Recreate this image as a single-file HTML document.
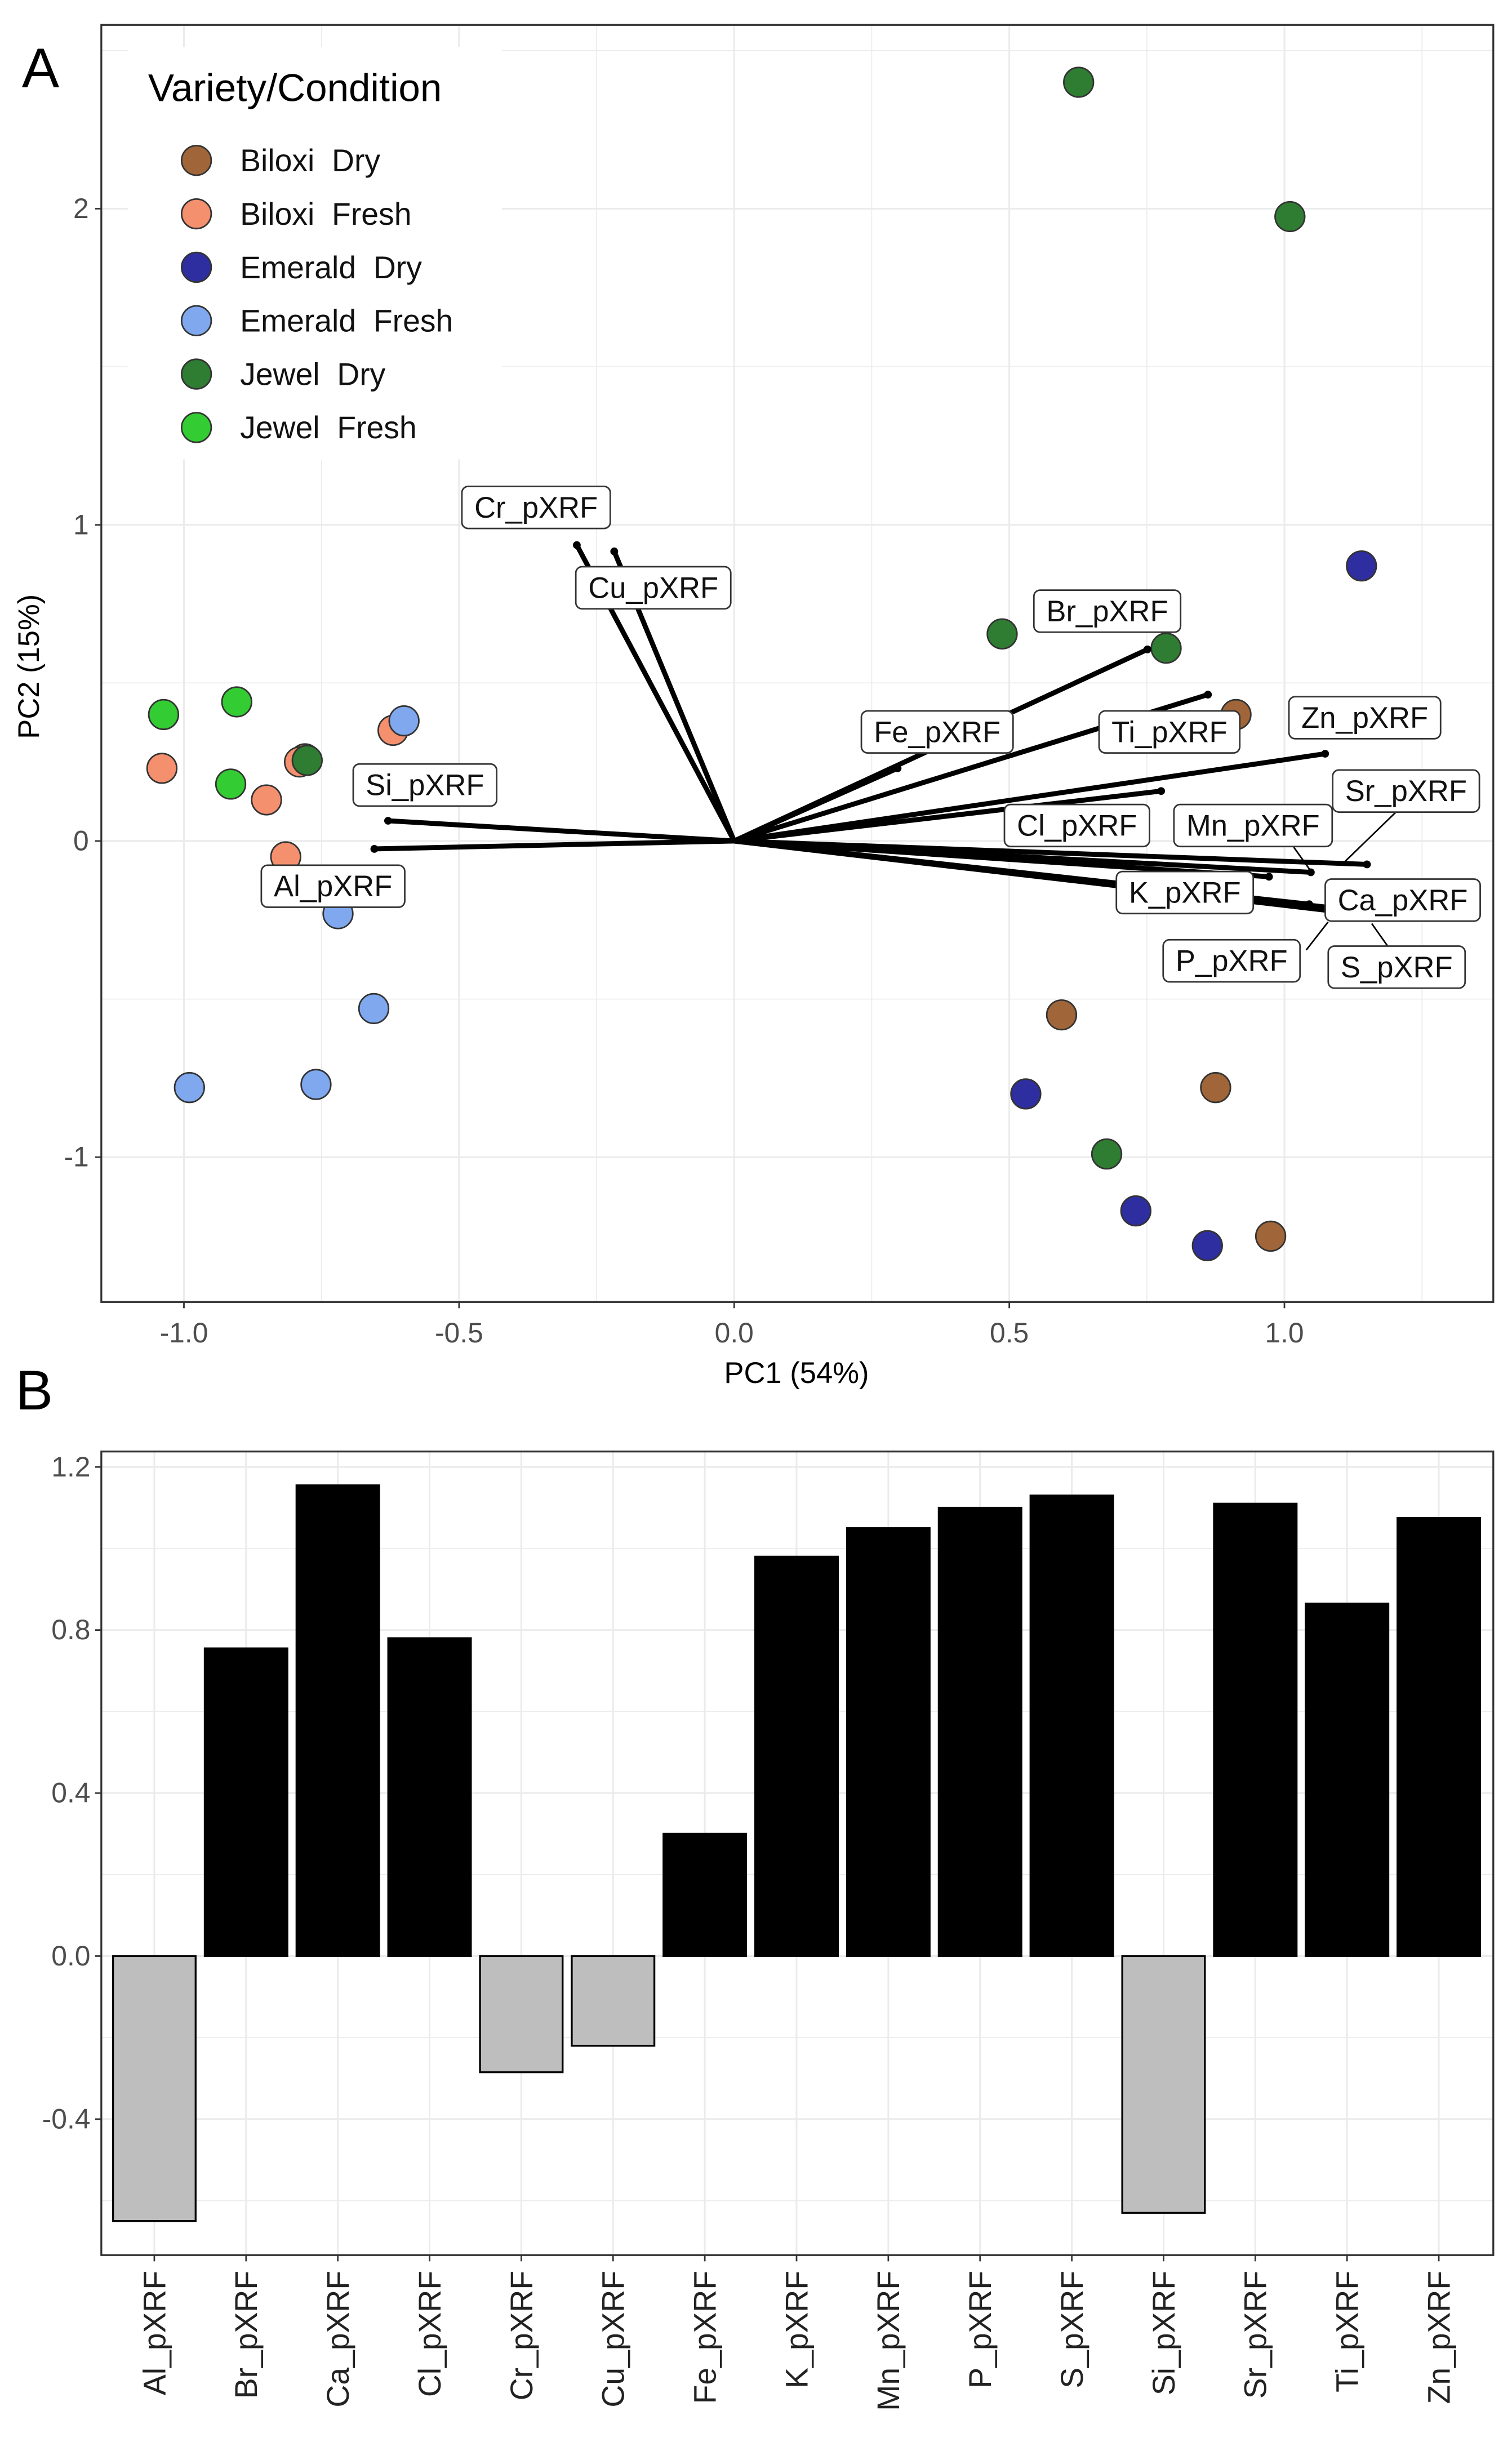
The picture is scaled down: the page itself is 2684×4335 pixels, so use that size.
<!DOCTYPE html>
<html><head><meta charset="utf-8"><style>
html,body{margin:0;padding:0;background:#fff}
svg{display:block}
text{font-family:"Liberation Sans",Arial,sans-serif;white-space:pre}
</style></head><body>
<svg id="fig" width="2684" height="4335" viewBox="0 0 970 1568" preserveAspectRatio="none" xmlns="http://www.w3.org/2000/svg">
<rect width="970" height="1568" fill="#fff"/>
<g id="pa"></g>
<g id="pb"></g>
</svg>
<script>
// ---- Panel A data ----
const groups = ["Biloxi  Dry","Biloxi  Fresh","Emerald  Dry","Emerald  Fresh","Jewel  Dry","Jewel  Fresh"];
const groupColors = ["#A0663A","#F4906E","#2E2EA0","#7FA8EE","#2E7D32","#33CC33"];
const biloxiDry = [[0.912,0.40],[0.595,-0.55],[0.875,-0.78],[0.975,-1.25],[-0.78,0.26]];
const biloxiFresh = [[-1.04,0.23],[-0.85,0.13],[-0.815,-0.05],[-0.62,0.35],[-0.79,0.25]];
const emeraldDry = [[1.14,0.87],[0.53,-0.80],[0.73,-1.17],[0.86,-1.28],[0.70,0.05]];
const emeraldFresh = [[-0.99,-0.78],[-0.76,-0.77],[-0.655,-0.53],[-0.72,-0.23],[-0.60,0.38]];
const jewelDry = [[0.626,2.40],[1.01,1.975],[0.487,0.655],[0.785,0.61],[0.677,-0.99],[-0.776,0.255]];
const jewelFresh = [[-1.037,0.40],[-0.904,0.44],[-0.915,0.18]];
const loadNames = ["Cr_pXRF","Cu_pXRF","Si_pXRF","Al_pXRF","Br_pXRF","Fe_pXRF","Ti_pXRF","Zn_pXRF","Cl_pXRF","Mn_pXRF","K_pXRF","Sr_pXRF","Ca_pXRF","S_pXRF","P_pXRF"];
const loadX = [-0.286,-0.218,-0.629,-0.654,0.751,0.297,0.861,1.074,0.776,1.048,0.972,1.15,1.08,1.08,1.045];
const loadY = [0.936,0.916,0.064,-0.025,0.606,0.23,0.463,0.276,0.158,-0.099,-0.113,-0.074,-0.21,-0.22,-0.20];
const labelX = [-0.36,-0.147,-0.562,-0.729,0.678,0.369,0.791,1.146,0.623,0.943,0.819,1.221,1.215,1.204,0.904];
const labelY = [1.055,0.801,0.177,-0.143,0.727,0.345,0.345,0.39,0.049,0.049,-0.163,0.158,-0.187,-0.399,-0.379];
const xTicksA = [-1.0,-0.5,0.0,0.5,1.0];
const xTickLabA = ["-1.0","-0.5","0.0","0.5","1.0"];
const yTicksA = [-1,0,1,2];
const yTickLabA = ["-1","0","1","2"];
// ---- Panel B data ----
const barCats = ["Al_pXRF","Br_pXRF","Ca_pXRF","Cl_pXRF","Cr_pXRF","Cu_pXRF","Fe_pXRF","K_pXRF","Mn_pXRF","P_pXRF","S_pXRF","Si_pXRF","Sr_pXRF","Ti_pXRF","Zn_pXRF"];
const barVals = [-0.65,0.755,1.155,0.78,-0.285,-0.22,0.30,0.98,1.05,1.10,1.13,-0.63,1.11,0.865,1.075];
const yTicksB = [-0.4,0.0,0.4,0.8,1.2];
const yTickLabB = ["-0.4","0.0","0.4","0.8","1.2"];

const NS="http://www.w3.org/2000/svg";
function mk(parent,tag,attrs,txt){const e=document.createElementNS(NS,tag);for(const k in attrs)e.setAttribute(k,attrs[k]);if(txt!==undefined)e.textContent=txt;parent.appendChild(e);return e;}

const AL=65,AR=958,AT=16,AB=836;
const sx=v=>471+353*v, sy=v=>540-203*v;
const pa=document.getElementById('pa');
let t;
t=mk(pa,'text',{x:14,y:56,'font-size':36,fill:'#000'},'A');


const ga=mk(pa,'g',{});


for(let v=-1.25;v<=1.3;v+=0.25){const x=sx(v);if(x<AL||x>AR)continue;const major=Math.abs(v*2-Math.round(v*2))<1e-6;mk(ga,'line',{x1:x,x2:x,y1:AT,y2:AB,stroke:'#ebebeb','stroke-width':major?1.1:0.6});}
for(let v=-1.5;v<=2.5;v+=0.5){const y=sy(v);if(y<AT||y>AB)continue;const major=Math.abs(v-Math.round(v))<1e-6;mk(ga,'line',{x1:AL,x2:AR,y1:y,y2:y,stroke:'#ebebeb','stroke-width':major?1.1:0.6});}
const allPts=[biloxiDry,biloxiFresh,emeraldDry,emeraldFresh,jewelDry,jewelFresh];
allPts.forEach((arr,gi)=>{arr.forEach((p,i)=>{const c=mk(pa,'circle',{cx:sx(p[0]),cy:sy(p[1]),r:9.5,fill:groupColors[gi],stroke:'#333','stroke-width':1});

});});
loadNames.forEach((n,i)=>{const l=mk(pa,'line',{x1:sx(0),y1:sy(0),x2:sx(loadX[i]),y2:sy(loadY[i]),stroke:'#000','stroke-width':3.2});


mk(pa,'circle',{cx:sx(loadX[i]),cy:sy(loadY[i]),r:2.5,fill:'#000'});});
[[11,[896,521],[862,554]],[12,[852,592],[838,610]],[13,[880,593],[892,610]],[9,[830,544],[840,558]]].forEach(d=>{mk(pa,'line',{x1:d[1][0],y1:d[1][1],x2:d[2][0],y2:d[2][1],stroke:'#000','stroke-width':1});});
loadNames.forEach((n,i)=>{const cx=sx(labelX[i]),cy=sy(labelY[i]);
const g=mk(pa,'g',{});


const r=mk(g,'rect',{x:cx-45,y:cy-13.5,width:90,height:27,rx:4,fill:'#fff',stroke:'#333','stroke-width':1});
const tx=mk(g,'text',{x:cx,y:cy+6.5,'font-size':19,'text-anchor':'middle',fill:'#111'},n);
const w=tx.getComputedTextLength()+16;r.setAttribute('x',cx-w/2);r.setAttribute('width',w);});
mk(pa,'rect',{x:AL,y:AT,width:AR-AL,height:AB-AT,fill:'none',stroke:'#333','stroke-width':1.2});
xTicksA.forEach((v,i)=>{mk(pa,'line',{x1:sx(v),x2:sx(v),y1:AB,y2:AB+4,stroke:'#333'});
t=mk(pa,'text',{x:sx(v),y:AB+26,'font-size':18,'text-anchor':'middle',fill:'#4d4d4d'},xTickLabA[i]);

});
yTicksA.forEach((v,i)=>{mk(pa,'line',{x1:AL-4,x2:AL,y1:sy(v),y2:sy(v),stroke:'#333'});
t=mk(pa,'text',{x:AL-8,y:sy(v)+6,'font-size':18,'text-anchor':'end',fill:'#4d4d4d'},yTickLabA[i]);

});
t=mk(pa,'text',{x:511,y:888,'font-size':19,'text-anchor':'middle',fill:'#000'},'PC1 (54%)');


t=mk(pa,'text',{x:25,y:428,'font-size':19,'text-anchor':'middle',fill:'#000',transform:'rotate(-90 25 428)'},'PC2 (15%)');


const lg=mk(pa,'g',{});


mk(lg,'rect',{x:82,y:30,width:240,height:265,fill:'#fff'});
mk(lg,'text',{x:95,y:65,'font-size':25,fill:'#000'},'Variety/Condition');
groups.forEach((g,i)=>{const y=103+34.3*i;const e=mk(lg,'g',{});


mk(e,'circle',{cx:126,cy:y,r:9.5,fill:groupColors[i],stroke:'#333','stroke-width':1});
mk(e,'text',{x:154,y:y+7,'font-size':20,fill:'#111'},g);});

const BL=65,BR=958,BT=932,BB=1448;
const by=v=>1256-261.7*v, bx=i=>99+58.86*i;
const pb=document.getElementById('pb');
t=mk(pb,'text',{x:10,y:905,'font-size':36,fill:'#000'},'B');


const gb=mk(pb,'g',{});


for(let v=-0.6;v<=1.21;v+=0.2){const major=Math.abs(v/0.4-Math.round(v/0.4))<1e-6;mk(gb,'line',{x1:BL,x2:BR,y1:by(v),y2:by(v),stroke:'#ebebeb','stroke-width':major?1.1:0.6});}
barCats.forEach((c,i)=>mk(gb,'line',{x1:bx(i),x2:bx(i),y1:BT,y2:BB,stroke:'#ebebeb','stroke-width':1.1}));
barCats.forEach((c,i)=>{const v=barVals[i];const y0=Math.min(by(v),by(0)),h=Math.abs(by(v)-by(0));
const r=mk(pb,'rect',{x:bx(i)-26.5,y:y0,width:53,height:h,fill:v>=0?'#000':'#BEBEBE',stroke:'#000','stroke-width':1.2});

});
mk(pb,'rect',{x:BL,y:BT,width:BR-BL,height:BB-BT,fill:'none',stroke:'#333','stroke-width':1.2});
yTicksB.forEach((v,i)=>{mk(pb,'line',{x1:BL-4,x2:BL,y1:by(v),y2:by(v),stroke:'#333'});
t=mk(pb,'text',{x:BL-7,y:by(v)+6,'font-size':18,'text-anchor':'end',fill:'#4d4d4d'},yTickLabB[i]);

});
barCats.forEach((c,i)=>{mk(pb,'line',{x1:bx(i),x2:bx(i),y1:BB,y2:BB+4,stroke:'#333'});
const x=bx(i)+7,y=BB+10;
t=mk(pb,'text',{x:x,y:y,'font-size':20,'text-anchor':'end',fill:'#222',transform:'rotate(-90 '+x+' '+y+')'},c);

});
</script>
</body></html>
